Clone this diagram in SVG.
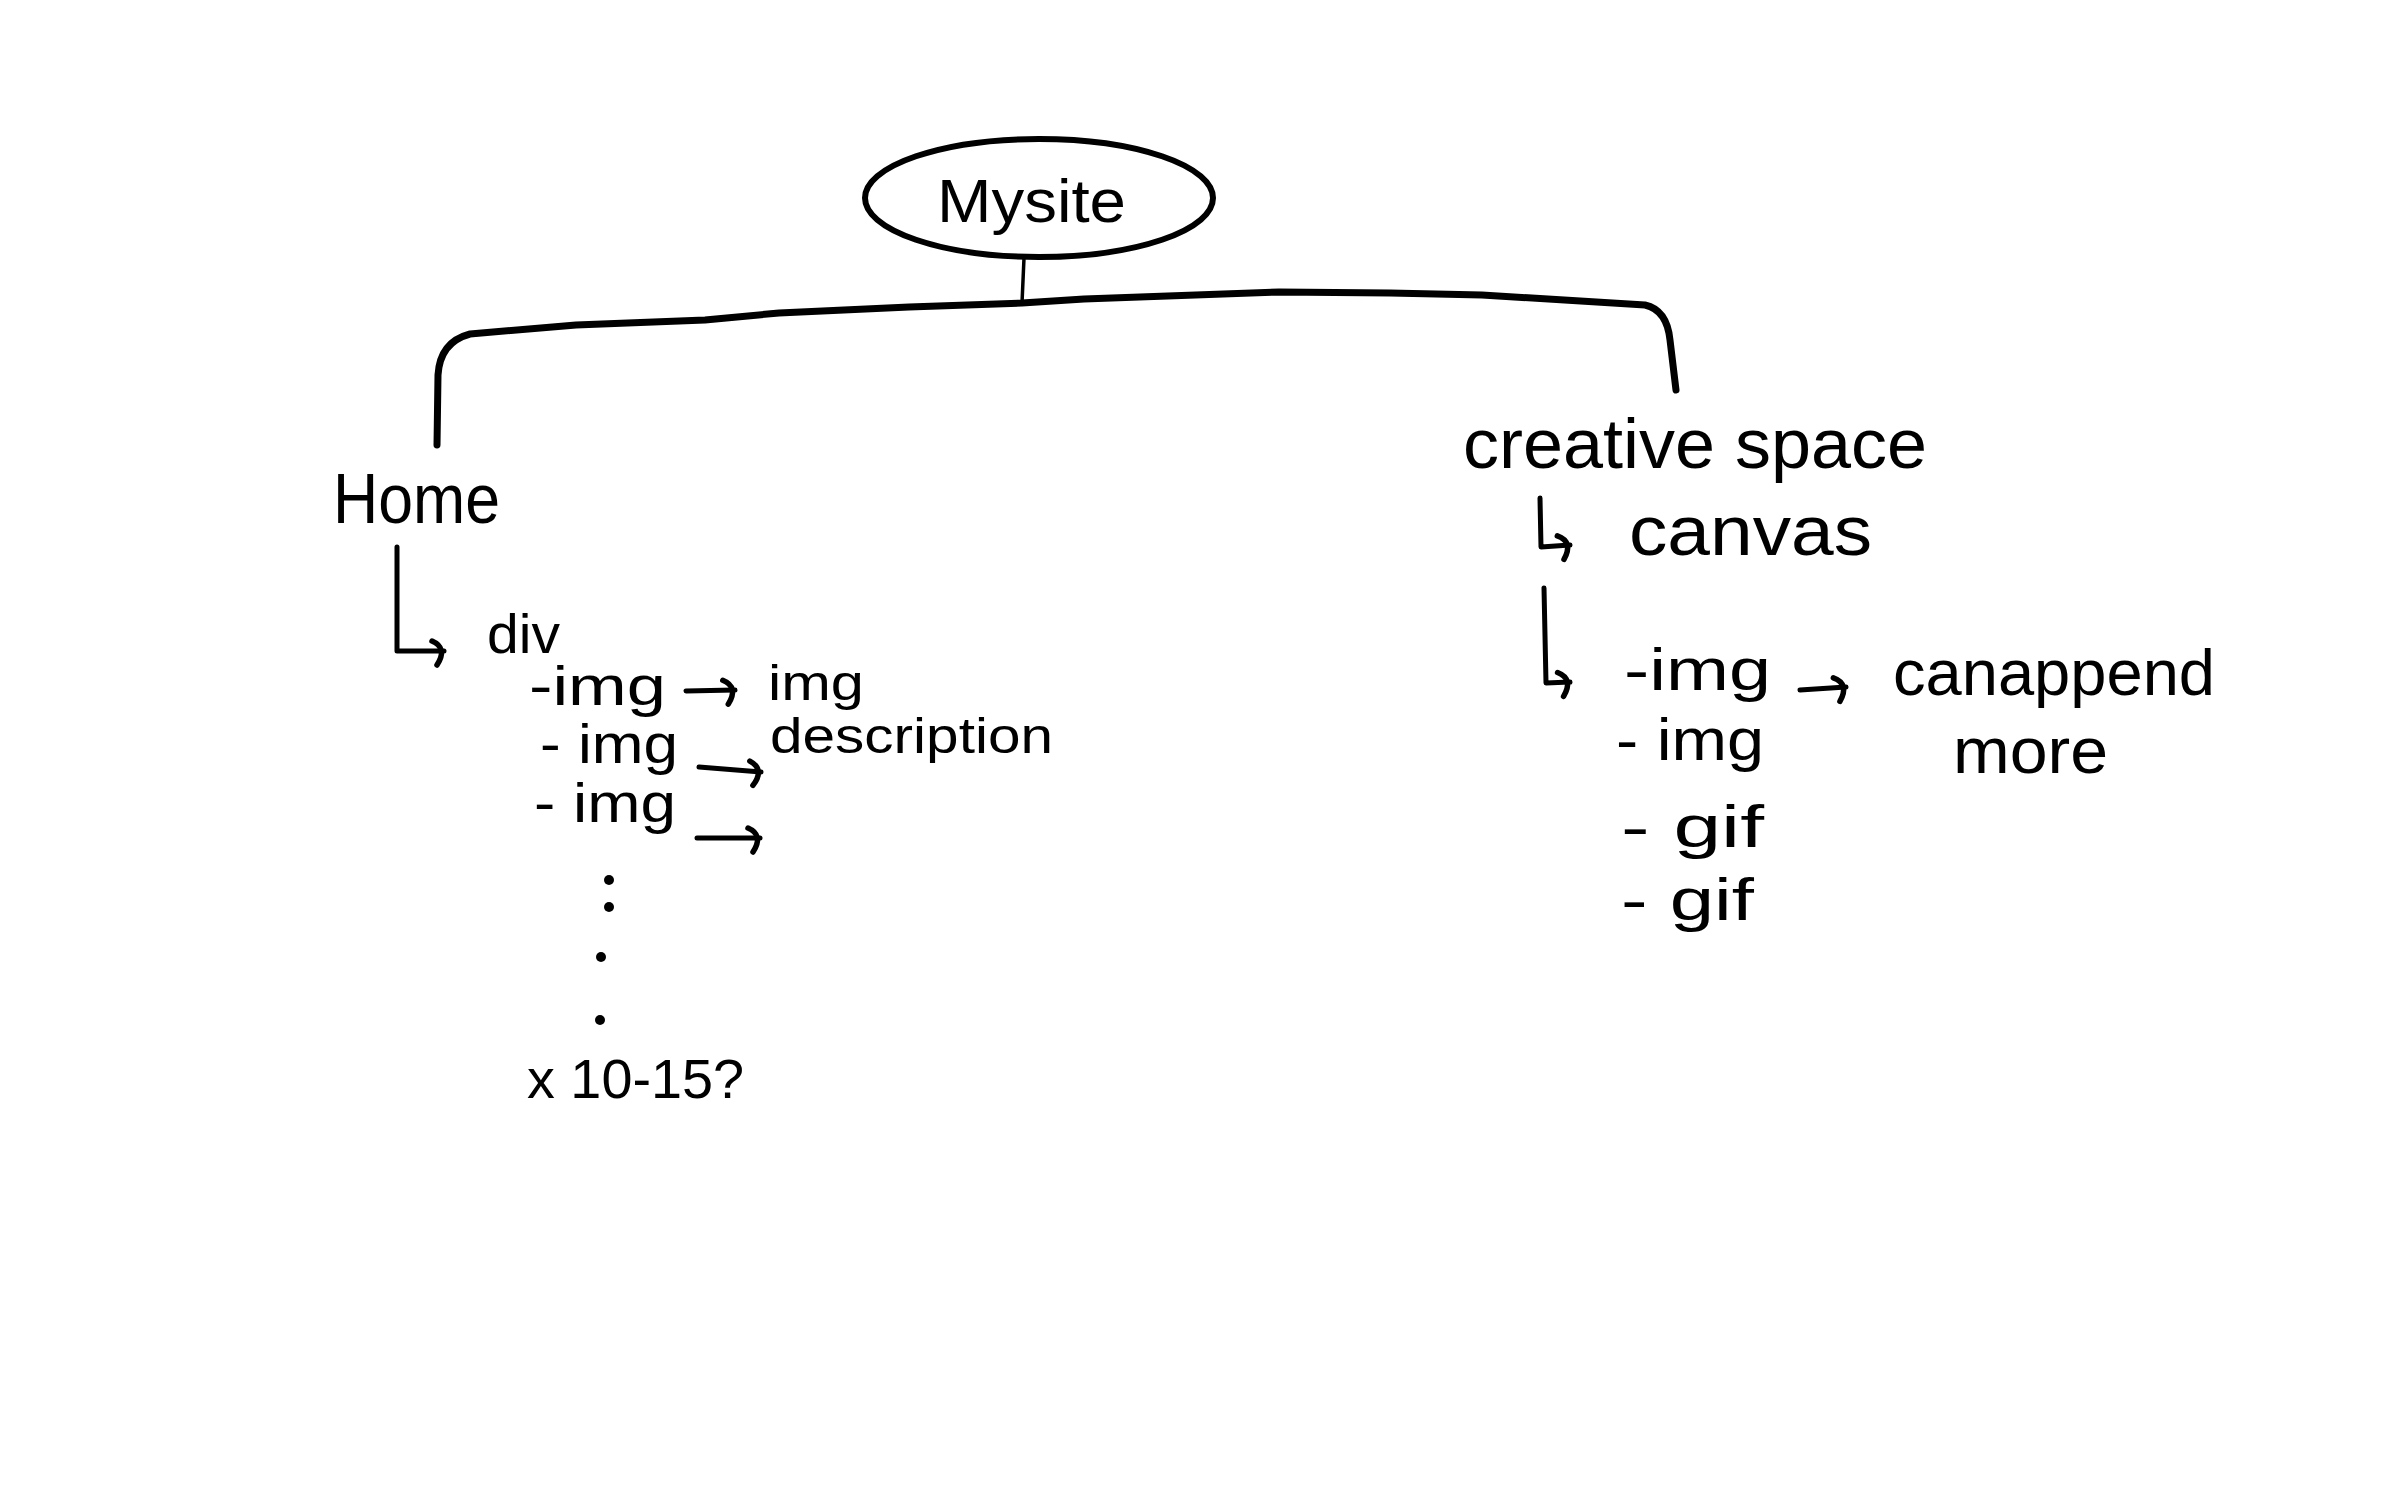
<svg xmlns="http://www.w3.org/2000/svg" width="2386" height="1491" viewBox="0 0 2386 1491">
  <style>
    .t { font-family: "Liberation Sans", "DejaVu Sans", sans-serif; fill: #000; }
    .ln { fill: none; stroke: #000; stroke-linecap: round; stroke-linejoin: round; }
  </style>
  <defs>
    <marker id="hook" markerUnits="userSpaceOnUse" markerWidth="40" markerHeight="40" viewBox="-20 -20 40 40" refX="0" refY="0" orient="auto">
      <path d="M-12,-10 Q4,-3 -7,14" fill="none" stroke="#000" stroke-width="5.5" stroke-linecap="round"/>
    </marker>
  </defs>
  <rect width="2386" height="1491" fill="#fff"/>

  <g id="connectors">
    <path class="ln" stroke-width="3.5" d="M1024,258 L1022,303"/>
    <path class="ln" stroke-width="7" d="M437,445 L438,375 Q440,342 470,334 L576,325 L705,320 L779,313 L909,307 L1022,303 L1084,299 L1279,292 L1390,293 L1482,295 L1645,305 Q1667,310 1670,340 L1676,390"/>
    <path class="ln" stroke-width="5" d="M397,547 L397,651 L444,651" marker-end="url(#hook)"/>
    <path class="ln" stroke-width="5" d="M686,691 L735,690" marker-end="url(#hook)"/>
    <path class="ln" stroke-width="5" d="M699,767 L761,772" marker-end="url(#hook)"/>
    <path class="ln" stroke-width="5" d="M697,838 L760,838" marker-end="url(#hook)"/>
    <path class="ln" stroke-width="5" d="M1540,498 L1541,547 L1570,545" marker-end="url(#hook)"/>
    <path class="ln" stroke-width="5" d="M1544,588 L1546,683 L1570,682" marker-end="url(#hook)"/>
    <path class="ln" stroke-width="5" d="M1800,690 L1846,687" marker-end="url(#hook)"/>
  </g>

  <g id="node-mysite">
    <ellipse cx="1039" cy="198" rx="174" ry="59" fill="none" stroke="#000" stroke-width="6"/>
    <text class="t" x="937" y="222" font-size="62" textLength="189" lengthAdjust="spacingAndGlyphs">Mysite</text>
  </g>

  <g id="node-home">
    <text class="t" x="333" y="523" font-size="70" textLength="167" lengthAdjust="spacingAndGlyphs">Home</text>
  </g>

  <g id="node-div">
    <text class="t" x="487" y="653" font-size="55" textLength="73" lengthAdjust="spacingAndGlyphs">div</text>
  </g>

  <g id="node-home-imgs">
    <text class="t" x="529" y="705" font-size="55" textLength="137" lengthAdjust="spacingAndGlyphs">-img</text>
    <text class="t" x="540" y="763" font-size="55" textLength="138" lengthAdjust="spacingAndGlyphs">- img</text>
    <text class="t" x="534" y="822" font-size="55" textLength="142" lengthAdjust="spacingAndGlyphs">- img</text>
    <circle cx="609" cy="880" r="5"/>
    <circle cx="609" cy="907" r="5"/>
    <circle cx="601" cy="957" r="5"/>
    <circle cx="600" cy="1020" r="5"/>
    <text class="t" x="527" y="1098" font-size="55" textLength="217" lengthAdjust="spacingAndGlyphs">x 10-15?</text>
  </g>

  <g id="node-img-description">
    <text class="t" x="768" y="700" font-size="50" textLength="96" lengthAdjust="spacingAndGlyphs">img</text>
    <text class="t" x="770" y="753" font-size="50" textLength="283" lengthAdjust="spacingAndGlyphs">description</text>
  </g>

  <g id="node-creative-space">
    <text class="t" x="1463" y="468" font-size="70" textLength="464" lengthAdjust="spacingAndGlyphs">creative space</text>
  </g>

  <g id="node-canvas">
    <text class="t" x="1629" y="555" font-size="70" textLength="243" lengthAdjust="spacingAndGlyphs">canvas</text>
  </g>

  <g id="node-canvas-items">
    <text class="t" x="1624" y="690" font-size="60" textLength="147" lengthAdjust="spacingAndGlyphs">-img</text>
    <text class="t" x="1616" y="760" font-size="60" textLength="148" lengthAdjust="spacingAndGlyphs">- img</text>
    <text class="t" x="1621" y="847" font-size="60" textLength="143" lengthAdjust="spacingAndGlyphs">- gif</text>
    <text class="t" x="1621" y="920" font-size="60" textLength="133" lengthAdjust="spacingAndGlyphs">- gif</text>
  </g>

  <g id="node-canappend">
    <text class="t" x="1893" y="695" font-size="64" textLength="322" lengthAdjust="spacingAndGlyphs">canappend</text>
    <text class="t" x="1953" y="773" font-size="64" textLength="155" lengthAdjust="spacingAndGlyphs">more</text>
  </g>
</svg>
